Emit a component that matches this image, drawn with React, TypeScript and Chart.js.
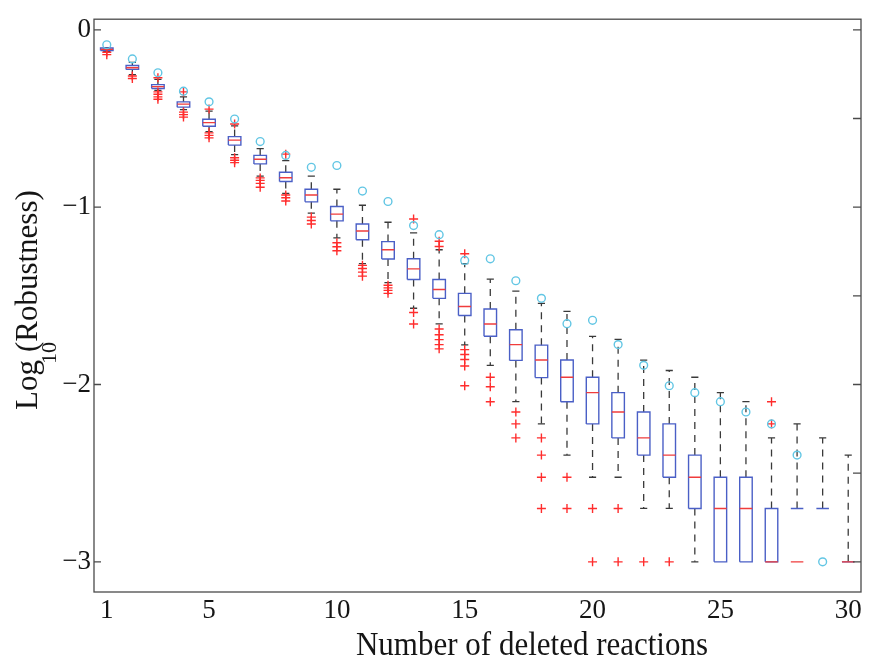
import React, { useEffect, useRef } from "react";
import { Chart, registerables } from "chart.js";

Chart.register(...registerables);

// ---------- data ----------
const CATEGORIES = [1, 2, 3, 4, 5, 6, 7, 8, 9, 10, 11, 12, 13, 14, 15, 16, 17, 18, 19, 20, 21, 22, 23, 24, 25, 26, 27, 28, 29, 30];
const X_TICKS = [1, 5, 10, 15, 20, 25, 30];
const Y_TICKS = [0, -1, -2, -3];
const Y_RIGHT_TICKS = [0, -0.5, -1, -1.5, -2, -2.5, -3];

const WHISKER_HIGH = [-0.1, -0.183, -0.279, -0.378, -0.458, -0.542, -0.67, -0.737, -0.825, -0.899, -0.989, -1.085, -1.145, -1.24, -1.318, -1.406, -1.473, -1.542, -1.588, -1.728, -1.745, -1.862, -1.921, -1.959, -2.046, -2.097, -2.301, -2.222, -2.301, -2.398];
const Q3 = [-0.102, -0.201, -0.309, -0.406, -0.504, -0.602, -0.708, -0.803, -0.899, -0.996, -1.095, -1.194, -1.291, -1.408, -1.486, -1.574, -1.691, -1.778, -1.862, -1.959, -2.046, -2.155, -2.222, -2.398, -2.523, -2.523, -2.699, -2.699, -2.699, -3.0];
const MEDIAN = [-0.11, -0.214, -0.32, -0.419, -0.523, -0.622, -0.73, -0.834, -0.931, -1.039, -1.134, -1.24, -1.348, -1.464, -1.56, -1.659, -1.775, -1.862, -1.959, -2.046, -2.155, -2.301, -2.398, -2.523, -2.699, -2.699, -3.0, -3.0, null, -3.0];
const Q1 = [-0.117, -0.223, -0.331, -0.436, -0.544, -0.65, -0.756, -0.855, -0.97, -1.077, -1.184, -1.292, -1.408, -1.514, -1.611, -1.728, -1.864, -1.961, -2.097, -2.222, -2.301, -2.398, -2.523, -2.699, -3.0, -3.0, -3.0, -2.699, -2.699, -3.0];
const WHISKER_LOW = [-0.123, -0.253, -0.341, -0.45, -0.574, -0.704, -0.825, -0.922, -1.034, -1.173, -1.318, -1.426, -1.57, -1.658, -1.777, -1.892, -2.097, -2.222, -2.398, -2.523, -2.523, -2.699, -2.699, -3.0, null, null, null, null, null, null];
const OUTLIERS: number[][] = [
  [-0.126, -0.14],
  [-0.26, -0.274],
  [-0.27, -0.35, -0.363, -0.378, -0.391],
  [-0.35, -0.464, -0.478, -0.492],
  [-0.447, -0.581, -0.595, -0.609],
  [-0.531, -0.721, -0.735, -0.749],
  [-0.835, -0.849, -0.866, -0.888],
  [-0.701, -0.931, -0.947, -0.965],
  [-1.056, -1.075, -1.095],
  [-1.201, -1.223, -1.246],
  [-1.328, -1.346, -1.366, -1.389],
  [-1.44, -1.455, -1.469, -1.486],
  [-1.067, -1.594, -1.659],
  [-1.192, -1.222, -1.687, -1.719, -1.747, -1.775, -1.799],
  [-1.263, -1.803, -1.831, -1.859, -1.896, -2.007],
  [-1.959, -2.013, -2.097],
  [-2.155, -2.222, -2.301],
  [-2.301, -2.398, -2.523, -2.699],
  [-2.523, -2.699],
  [-2.699, -3.0],
  [-2.699, -3.0],
  [-3.0],
  [-3.0],
  [],
  [],
  [],
  [-2.097, -2.222],
  [],
  [],
  [],
];
const BEST = [-0.084, -0.164, -0.242, -0.346, -0.406, -0.503, -0.63, -0.708, -0.775, -0.765, -0.909, -0.968, -1.104, -1.155, -1.3, -1.291, -1.415, -1.514, -1.657, -1.638, -1.775, -1.892, -2.007, -2.046, -2.097, -2.155, -2.222, -2.398, -3.0, null];

const X_TITLE = "Number of deleted reactions";
const Y_TITLE_MAIN = "Log";
const Y_TITLE_SUB = "10";
const Y_TITLE_REST = "(Robustness)";

// ---------- styles ----------
const HALF_BOX = 0.245;
const HALF_CAP = 0.14;
const SERIF = '"Liberation Serif", "Times New Roman", serif';
const TEXT = "#151515";
const FRAME = "#4a4a4a";

type P = { x: number; y: number | null };

function buildData() {
  const box: P[] = [];
  const med: P[] = [];
  const whisk: P[] = [];
  const caps: P[] = [];
  const outs: P[] = [];
  const best: P[] = [];
  CATEGORIES.forEach((c, i) => {
    const q1 = Q1[i];
    const q3 = Q3[i];
    const brk = { x: c, y: null };
    box.push({ x: c - HALF_BOX, y: q1 }, { x: c + HALF_BOX, y: q1 }, { x: c + HALF_BOX, y: q3 }, { x: c - HALF_BOX, y: q3 }, { x: c - HALF_BOX, y: q1 }, brk);
    const m = MEDIAN[i];
    if (m !== null) med.push({ x: c - HALF_BOX, y: m }, { x: c + HALF_BOX, y: m }, brk);
    const hi = WHISKER_HIGH[i];
    if (hi !== null && hi > q3) {
      whisk.push({ x: c, y: q3 }, { x: c, y: hi }, brk);
      caps.push({ x: c - HALF_CAP, y: hi }, { x: c + HALF_CAP, y: hi }, brk);
    }
    const lo = WHISKER_LOW[i];
    if (lo !== null && lo < q1) {
      whisk.push({ x: c, y: q1 }, { x: c, y: lo }, brk);
      caps.push({ x: c - HALF_CAP, y: lo }, { x: c + HALF_CAP, y: lo }, brk);
    }
    OUTLIERS[i].forEach((v) => outs.push({ x: c, y: v }));
    const b = BEST[i];
    if (b !== null) best.push({ x: c, y: b });
  });
  return { box, med, whisk, caps, outs, best };
}

const lineDs = (data: P[], color: string, width: number, order: number, dash: number[] = []) => ({
  type: "scatter" as const,
  data,
  showLine: true,
  spanGaps: false,
  borderColor: color,
  backgroundColor: color,
  borderWidth: width,
  borderDash: dash,
  borderCapStyle: "butt" as const,
  borderJoinStyle: "miter" as const,
  pointRadius: 0,
  pointHoverRadius: 0,
  fill: false,
  tension: 0,
  order,
});

const framePlugin = {
  id: "matlabFrame",
  afterDraw(chart: any) {
    const { ctx, chartArea: a, scales } = chart;
    const y = scales.y;
    ctx.save();
    ctx.strokeStyle = FRAME;
    ctx.lineWidth = 1.3;
    ctx.strokeRect(a.left, a.top, a.right - a.left, a.bottom - a.top);
    ctx.beginPath();
    Y_TICKS.forEach((v) => {
      const py = y.getPixelForValue(v);
      ctx.moveTo(a.left, py);
      ctx.lineTo(a.left + 7, py);
    });
    Y_RIGHT_TICKS.forEach((v) => {
      const py = y.getPixelForValue(v);
      ctx.moveTo(a.right - 8, py);
      ctx.lineTo(a.right, py);
    });
    ctx.stroke();

    // x title
    ctx.fillStyle = TEXT;
    ctx.save();
    ctx.font = `31px ${SERIF}`;
    ctx.textAlign = "center";
    ctx.textBaseline = "alphabetic";
    ctx.translate(532, 655);
    ctx.scale(1, 1.12);
    ctx.fillText(X_TITLE, 0, 0);
    ctx.restore();

    // y title with subscript
    ctx.save();
    ctx.translate(37, 410);
    ctx.rotate(-Math.PI / 2);
    ctx.textAlign = "left";
    ctx.textBaseline = "alphabetic";
    ctx.font = `31px ${SERIF}`;
    ctx.fillText(Y_TITLE_MAIN, 0, 0);
    const w = ctx.measureText(Y_TITLE_MAIN).width;
    ctx.fillText(Y_TITLE_REST, w + 8, 0);
    ctx.font = `22px ${SERIF}`;
    ctx.fillText(Y_TITLE_SUB, w - 4, 19);
    ctx.restore();
    ctx.restore();
  },
};

export default function App() {
  const ref = useRef<HTMLCanvasElement | null>(null);
  useEffect(() => {
    if (!ref.current) return;
    const d = buildData();
    const tickFont = { family: SERIF, size: 27 };
    const chart = new Chart(ref.current, {
      type: "scatter",
      data: {
        datasets: [
          lineDs(d.whisk, "#3a3a3a", 1.3, 6, [7, 6]),
          lineDs(d.caps, "#3a3a3a", 1.3, 5),
          lineDs(d.box, "#4a5fc6", 1.4, 4),
          lineDs(d.med, "#f03c3c", 1.4, 3),
          {
            type: "scatter" as const,
            data: d.outs,
            pointStyle: "cross",
            pointRadius: 4.5,
            pointHoverRadius: 4.5,
            borderColor: "#ff2d2d",
            backgroundColor: "#ff2d2d",
            pointBorderWidth: 1.4,
            order: 2,
          },
          {
            type: "scatter" as const,
            data: d.best,
            pointStyle: "circle",
            pointRadius: 3.9,
            pointHoverRadius: 3.9,
            borderColor: "#62c6e4",
            backgroundColor: "rgba(0,0,0,0)",
            pointBorderWidth: 1.4,
            order: 1,
          },
        ] as any,
      },
      options: {
        animation: false,
        responsive: true,
        maintainAspectRatio: false,
        events: [],
        layout: { padding: { top: 13, right: 8, left: 0, bottom: 0 } },
        plugins: { legend: { display: false }, tooltip: { enabled: false } },
        scales: {
          x: {
            type: "linear",
            min: 0.5,
            max: 30.5,
            grid: { display: false, drawTicks: false },
            border: { display: false },
            ticks: {
              autoSkip: false,
              maxRotation: 0,
              padding: 3,
              color: TEXT,
              font: tickFont,
              callback: (v: any) => String(v),
            },
            afterBuildTicks: (s: any) => {
              s.ticks = X_TICKS.map((v) => ({ value: v }));
            },
            afterFit: (s: any) => {
              s.height = 67;
            },
          },
          y: {
            type: "linear",
            min: -3.17,
            max: 0.06,
            grid: { display: false, drawTicks: false },
            border: { display: false },
            ticks: {
              padding: 3,
              color: TEXT,
              font: tickFont,
              callback: (v: any) => (Number(v) === 0 ? "0" : "\u2212" + Math.abs(Number(v))),
            },
            afterBuildTicks: (s: any) => {
              s.ticks = Y_TICKS.map((v) => ({ value: v }));
            },
            afterFit: (s: any) => {
              s.width = 94;
            },
          },
        },
      } as any,
      plugins: [framePlugin],
    });
    return () => chart.destroy();
  }, []);
  return (
    <div style={{ position: "fixed", left: 0, top: 0, width: 869, height: 659, background: "#fff" }}>
      <canvas ref={ref} />
    </div>
  );
}
